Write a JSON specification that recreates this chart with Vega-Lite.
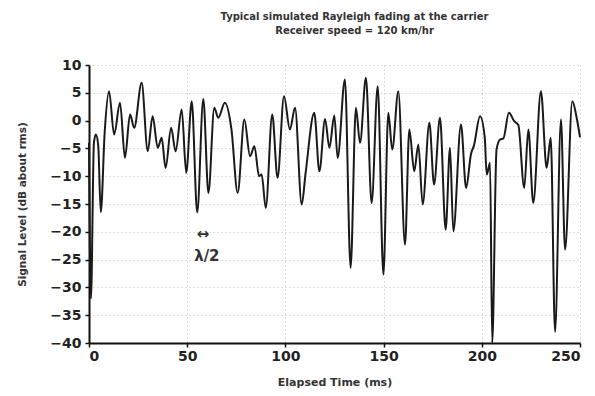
{
  "$schema": "https://vega.github.io/schema/vega-lite/v6.json",
  "width": 491,
  "height": 278,
  "autosize": {"type": "none"},
  "padding": {"left": 89, "top": 65, "right": 15, "bottom": 53},
  "background": "white",
  "title": {
    "text": ["Typical simulated Rayleigh fading at the carrier", "Receiver speed = 120 km/hr"],
    "font": "DejaVu Sans",
    "fontSize": 10,
    "fontWeight": "bold",
    "color": "#333",
    "anchor": "middle",
    "dx": 20,
    "offset": 22,
    "lineHeight": 14
  },
  "config": {
    "view": {"stroke": null},
    "axis": {
      "labelFont": "DejaVu Sans",
      "labelFontSize": 14,
      "labelFontWeight": "bold",
      "labelColor": "#222",
      "titleFont": "DejaVu Sans",
      "titleFontWeight": "bold",
      "titleColor": "#333",
      "domainColor": "#111",
      "domainWidth": 2,
      "tickColor": "#111",
      "tickSize": 4,
      "tickWidth": 1.5,
      "grid": true,
      "gridColor": "#bbb",
      "gridDash": [1, 3],
      "gridWidth": 1
    }
  },
  "data": {
    "values": [
      {"t": 0, "s": -4}, {"t": 1, "s": -32}, {"t": 2.5, "s": -4}, {"t": 3.5, "s": -2.5},
      {"t": 4.7, "s": -4.5}, {"t": 6, "s": -16.5}, {"t": 8, "s": -2}, {"t": 10.2, "s": 5.3},
      {"t": 12.8, "s": -2.5}, {"t": 15.8, "s": 3.2}, {"t": 18.3, "s": -6.7}, {"t": 20.9, "s": 1.1},
      {"t": 23, "s": -1.3}, {"t": 26.8, "s": 6.8}, {"t": 29.9, "s": -5.5}, {"t": 32.4, "s": 0.8},
      {"t": 35, "s": -4.9}, {"t": 37, "s": -3.1}, {"t": 39, "s": -8.5}, {"t": 41.8, "s": -1.3},
      {"t": 44.1, "s": -5.5}, {"t": 47.2, "s": 2}, {"t": 49.5, "s": -9.4}, {"t": 52.3, "s": 3.5},
      {"t": 55.1, "s": -16.5}, {"t": 58.2, "s": 3.9}, {"t": 60.8, "s": -13}, {"t": 63.8, "s": 2.3},
      {"t": 65.8, "s": 0.5}, {"t": 69.2, "s": 3.2}, {"t": 72.5, "s": -1.5}, {"t": 75.7, "s": -13},
      {"t": 79.1, "s": 0.2}, {"t": 82, "s": -6.4}, {"t": 84.2, "s": -4.6}, {"t": 86.6, "s": -10},
      {"t": 87.9, "s": -9.7}, {"t": 90, "s": -15.7}, {"t": 93.3, "s": 1.1}, {"t": 96, "s": -10.3},
      {"t": 99.3, "s": 4.4}, {"t": 102.3, "s": -1.6}, {"t": 104.9, "s": 2.3}, {"t": 108.3, "s": -15.1},
      {"t": 110.3, "s": -9.4}, {"t": 114.7, "s": 1.4}, {"t": 117.3, "s": -9.1}, {"t": 120.2, "s": 0.3},
      {"t": 122.4, "s": -4.9}, {"t": 124.9, "s": 0.9}, {"t": 126.6, "s": -6.7}, {"t": 130.3, "s": 7.4},
      {"t": 133.2, "s": -26.5}, {"t": 135.9, "s": 2.3}, {"t": 138, "s": -4}, {"t": 141, "s": 7.7},
      {"t": 143.9, "s": -14.8}, {"t": 147, "s": 6.2}, {"t": 149.9, "s": -27.7}, {"t": 152.4, "s": 1.4},
      {"t": 154.4, "s": -5.2}, {"t": 157.5, "s": 5.3}, {"t": 160.9, "s": -22.3}, {"t": 163.1, "s": -1.6},
      {"t": 165.6, "s": -9.1}, {"t": 167.7, "s": -4.3}, {"t": 169.9, "s": -15.1}, {"t": 173.3, "s": -0.4},
      {"t": 175.7, "s": -11.5}, {"t": 178.7, "s": 0.5}, {"t": 181.6, "s": -19.6}, {"t": 183.8, "s": -4.9},
      {"t": 185.5, "s": -19.9}, {"t": 189.4, "s": -0.7}, {"t": 192, "s": -12.1}, {"t": 194.5, "s": -6},
      {"t": 196, "s": -4.5}, {"t": 199.1, "s": 0.8}, {"t": 201.5, "s": -3}, {"t": 202.5, "s": -9.7},
      {"t": 204.2, "s": -7.6}, {"t": 205.3, "s": -40}, {"t": 207.5, "s": -5.2}, {"t": 209.3, "s": -3.4},
      {"t": 211, "s": -3.2}, {"t": 213.8, "s": 1.4}, {"t": 216.5, "s": -0.1}, {"t": 218.6, "s": -0.8},
      {"t": 221.6, "s": -12.1}, {"t": 223.7, "s": -1.6}, {"t": 226.2, "s": -14.8}, {"t": 230.1, "s": 5.3},
      {"t": 233, "s": -8.5}, {"t": 235.1, "s": -3.1}, {"t": 237.3, "s": -38}, {"t": 240.3, "s": 0.2},
      {"t": 242.4, "s": -23.2}, {"t": 246.1, "s": 3.5}, {"t": 248.3, "s": 0.5}, {"t": 250, "s": -3}
    ]
  },
  "encoding": {
    "x": {
      "field": "t",
      "type": "quantitative",
      "scale": {"domain": [0, 250], "nice": false},
      "axis": {
        "values": [0, 50, 100, 150, 200, 250],
        "title": "Elapsed Time (ms)",
        "titleFontSize": 11,
        "labelPadding": 2,
        "titlePadding": 13
      }
    },
    "y": {
      "field": "s",
      "type": "quantitative",
      "scale": {"domain": [-40, 10], "nice": false},
      "axis": {
        "values": [-40, -35, -30, -25, -20, -15, -10, -5, 0, 5, 10],
        "title": "Signal Level (dB about rms)",
        "titleFontSize": 10.5,
        "labelPadding": 4,
        "titlePadding": 22
      }
    }
  },
  "layer": [
    {
      "mark": {"type": "line", "interpolate": "monotone", "color": "#1a1a1a", "strokeWidth": 2}
    },
    {
      "data": {"values": [
        {"t": 58, "s": -20.4, "label": "↔"},
        {"t": 60, "s": -24.4, "label": "λ/2"}
      ]},
      "mark": {"type": "text", "font": "DejaVu Sans", "fontSize": 15, "fontWeight": "bold", "color": "#333", "align": "center", "baseline": "middle"},
      "encoding": {"text": {"field": "label", "type": "nominal"}}
    }
  ]
}
